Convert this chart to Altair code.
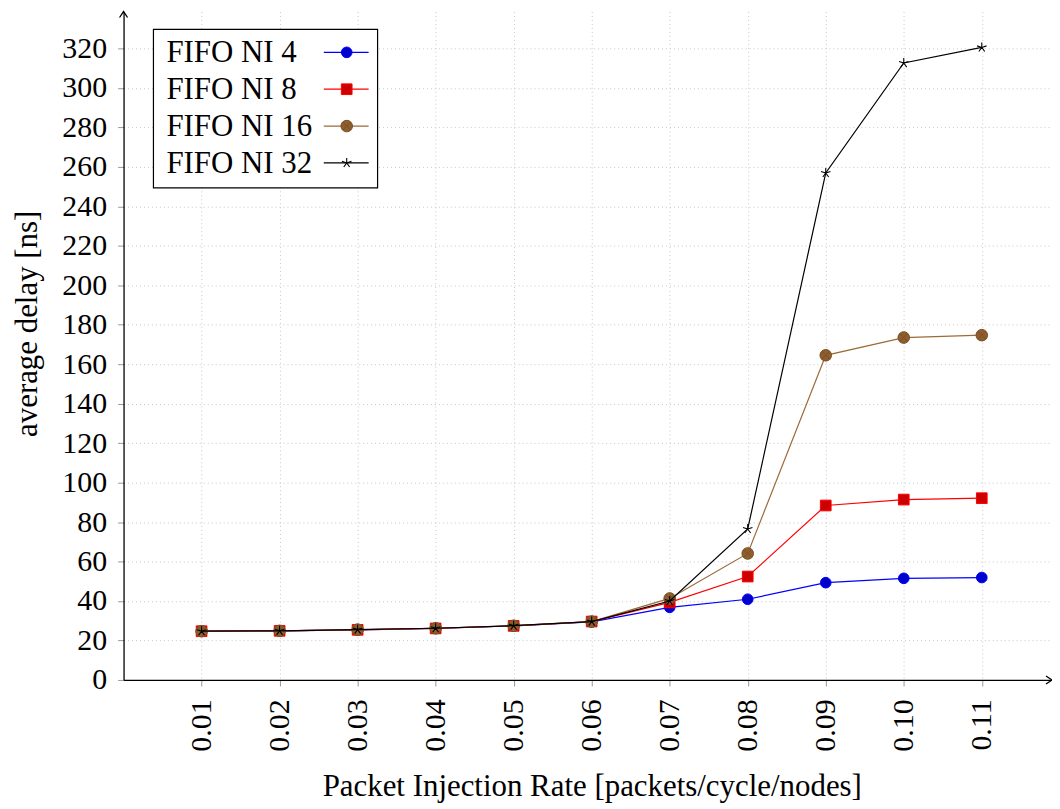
import altair as alt
import pandas as pd

# ---- data ----
rates = [0.01, 0.02, 0.03, 0.04, 0.05, 0.06, 0.07, 0.08, 0.09, 0.10, 0.11]
ni4 = [24.7, 24.9, 25.4, 26.1, 27.4, 29.4, 36.8, 40.9, 49.3, 51.5, 51.9]
ni8 = [24.7, 24.9, 25.4, 26.1, 27.4, 29.6, 39.3, 52.4, 88.4, 91.4, 92.1]
ni16 = [24.7, 24.9, 25.5, 26.2, 27.5, 29.6, 41.3, 64.1, 164.5, 173.5, 174.7]
ni32 = [24.7, 24.9, 25.5, 26.2, 27.5, 29.6, 40.0, 76.5, 256.9, 312.6, 320.5]
series_names = ["FIFO NI 4", "FIFO NI 8", "FIFO NI 16", "FIFO NI 32"]
y_ticks = list(range(0, 321, 20))

rows = []
for name, vals in zip(series_names, [ni4, ni8, ni16, ni32]):
    for r, v in zip(rates, vals):
        rows.append({"series": name, "rate": r, "delay": v})
df = pd.DataFrame(rows)

W, H = 932, 671
FONT = "Liberation Serif"

CIRCLE = "circle"
SQUARE = "square"
OTIMES = ("M1,0A1,1,0,1,1,-1,0A1,1,0,1,1,1,0Z"
          "M-0.707,-0.707L0.707,0.707M-0.707,0.707L0.707,-0.707")
STAR = ("M0,0L0,-1M0,0L0.951,-0.309M0,0L0.588,0.809"
        "M0,0L-0.588,0.809M0,0L-0.951,-0.309")

styles = {
    "FIFO NI 4": dict(line="#0000ff", fill="#0000cc", stroke="#0000ff", shape=CIRCLE, size=115, filled=True),
    "FIFO NI 8": dict(line="#ff0000", fill="#cc0000", stroke="#ff0000", shape=SQUARE, size=115, filled=True),
    "FIFO NI 16": dict(line="#9c6a38", fill="#8e5e2e", stroke="#7a4f24", shape=OTIMES, size=135, filled=True),
    "FIFO NI 32": dict(line="#000000", fill="#000000", stroke="#000000", shape=STAR, size=100, filled=False),
}

X = alt.X("rate:Q",
          scale=alt.Scale(domain=[0, 0.1190], nice=False, zero=False),
          axis=alt.Axis(values=rates, format=".2f", labelAngle=270,
                        labelFont=FONT, labelFontSize=30, labelColor="black",
                        title="Packet Injection Rate [packets/cycle/nodes]",
                        titleFont=FONT, titleFontSize=31,
                        titleX=470, titleY=107, titleBaseline="middle", titleAlign="center"))
Y = alt.Y("delay:Q",
          scale=alt.Scale(domain=[0, 338.7], nice=False),
          axis=alt.Axis(values=y_ticks, title="average delay [ns]",
                        labelFont=FONT, labelFontSize=30, labelColor="black",
                        titleFont=FONT, titleFontSize=31,
                        titleX=-96, titleY=313, titleAngle=270,
                        titleBaseline="middle", titleAlign="center"))

layers = []
for name in series_names:
    s = styles[name]
    sub = alt.Chart(df).transform_filter(alt.datum.series == name)
    layers.append(sub.mark_line(color=s["line"], strokeWidth=1.2).encode(x=X, y=Y))
    if s["filled"]:
        pt = sub.mark_point(shape=s["shape"], filled=True, fill=s["fill"], stroke=s["stroke"],
                            strokeWidth=1, size=s["size"], opacity=1)
    else:
        pt = sub.mark_point(shape=s["shape"], filled=False, stroke=s["stroke"],
                            strokeWidth=1.1, size=s["size"], opacity=1)
    layers.append(pt.encode(x=X, y=Y))

# ---- custom legend (text left, symbol right) ----
leg_df = pd.DataFrame({"series": series_names})
leg = alt.Chart(leg_df)
layers.append(leg.transform_filter(alt.datum.series == series_names[0])
              .mark_rect(fill="white", stroke="black", strokeWidth=1.2)
              .encode(x=alt.value(30), x2=alt.value(255), y=alt.value(18), y2=alt.value(177)))
row_y = [41, 78, 115, 152]
for name, ry in zip(series_names, row_y):
    s = styles[name]
    one = leg.transform_filter(alt.datum.series == name)
    layers.append(one.mark_rule(color=s["line"], strokeWidth=1.2)
                  .encode(x=alt.value(201), x2=alt.value(246), y=alt.value(ry)))
    if s["filled"]:
        lp = one.mark_point(shape=s["shape"], filled=True, fill=s["fill"], stroke=s["stroke"],
                            strokeWidth=1, size=s["size"], opacity=1)
    else:
        lp = one.mark_point(shape=s["shape"], filled=False, stroke=s["stroke"],
                            strokeWidth=1.1, size=s["size"], opacity=1)
    layers.append(lp.encode(x=alt.value(224), y=alt.value(ry)))
    layers.append(one.mark_text(font=FONT, fontSize=31, align="left", baseline="alphabetic",
                                color="black")
                  .encode(text="series:N", x=alt.value(43), y=alt.value(ry + 10)))

# ---- axis arrows ----
arrow = alt.Chart(leg_df).transform_filter(alt.datum.series == series_names[0])
layers.append(arrow.mark_point(shape="M-0.67,1L0,0L0.67,1", filled=False, stroke="black",
                               strokeWidth=1.3, size=144, opacity=1)
              .encode(x=alt.value(0), y=alt.value(0)))
layers.append(arrow.mark_point(shape="M-1,-0.67L0,0L-1,0.67", filled=False, stroke="black",
                               strokeWidth=1.3, size=144, opacity=1)
              .encode(x=alt.value(W), y=alt.value(H)))

chart = alt.layer(*layers).properties(
    width=W, height=H,
    autosize=alt.AutoSizeParams(type="none"),
    padding={"left": 116, "top": 2, "right": 0, "bottom": 125},
).configure_view(strokeWidth=0).configure_axis(
    domainColor="black", domainWidth=1.3,
    tickColor="#999999", tickSize=6, tickWidth=1,
    grid=True, gridColor="#c8c8c8", gridDash=[1, 3], gridWidth=1,
    labelFont=FONT, labelFontSize=30, labelColor="black",
    titleFont=FONT, titleFontSize=31, titleColor="black", titleFontWeight="normal",
).configure_axisY(labelPadding=11).configure_axisX(labelPadding=13)

chart.save("out.html", embed_options={"renderer": "svg", "actions": False})
